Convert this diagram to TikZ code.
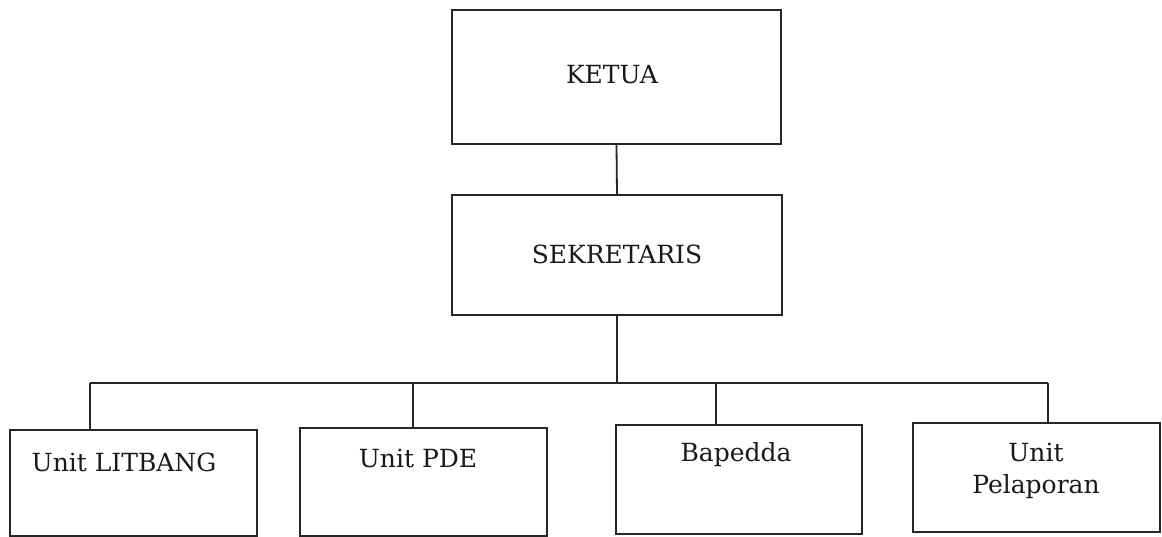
\documentclass[tikz,border=0pt]{standalone}
\usepackage{fontspec}
\setmainfont{DejaVu Serif}
\begin{document}
\begin{tikzpicture}[x=1pt,y=-1pt,
  box/.style={draw=black!85, line width=1.8pt, rectangle, inner sep=0pt},
  lbl/.style={font=\fontsize{25}{30}\selectfont, text=black!90, inner sep=0pt},
  conn/.style={draw=black!85, line width=1.8pt}]
\useasboundingbox (0,0) rectangle (1162,537);
% boxes
\node[box, minimum width=329pt, minimum height=134pt] (ketua) at (616.5,77) {};
\node[box, minimum width=330pt, minimum height=120pt] (sek) at (617,255) {};
\node[box, minimum width=247pt, minimum height=106pt] (b1) at (133.5,483) {};
\node[box, minimum width=247pt, minimum height=108pt] (b2) at (423.5,482) {};
\node[box, minimum width=246pt, minimum height=109pt] (b3) at (739,479.5) {};
\node[box, minimum width=247pt, minimum height=109pt] (b4) at (1036.5,477.5) {};
% labels
\node[lbl] (tketua) at (612,75) {KETUA};
\node[lbl] (tsek) at (617,254) {SEKRETARIS};
\node[lbl] (t1) at (124,462) {Unit LITBANG};
\node[lbl] (t2) at (418,458) {Unit PDE};
\node[lbl] (t3) at (736,455) {Bapedda};
\node[lbl] (t4a) at (1036,452) {Unit};
\node[lbl] (t4b) at (1036,487) {Pelaporan};
% bus coordinates
\coordinate (j1) at (90,383);
\coordinate (j2) at (413,383);
\coordinate (j3) at (716,383);
\coordinate (j4) at (1048,383);
% connectors
\draw[conn] (ketua.south) -- (sek.north);
\draw[conn] (sek.south) -- (sek.south |- j1);
\draw[conn] (j1) -- (j4);
\draw[conn] (j1) -- (j1 |- b1.north);
\draw[conn] (j2) -- (j2 |- b2.north);
\draw[conn] (j3) -- (j3 |- b3.north);
\draw[conn] (j4) -- (j4 |- b4.north);
\end{tikzpicture}
\end{document}
